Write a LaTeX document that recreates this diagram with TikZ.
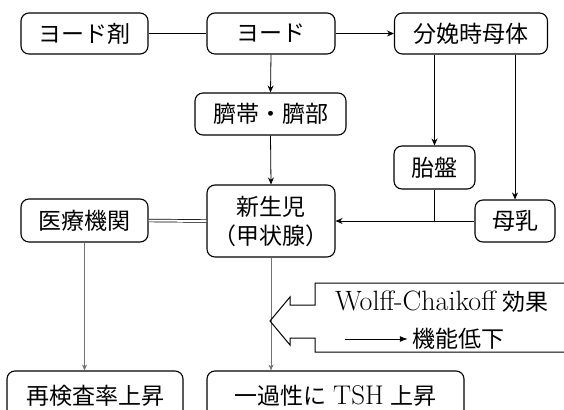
\documentclass[tikz,border=0pt]{standalone}
\usepackage{fontspec}
\newfontfamily\cjk{Noto Sans CJK JP}
\usetikzlibrary{arrows.meta}
\begin{document}
\begin{tikzpicture}[x=1pt,y=-1pt,
  box/.style={draw,rounded corners=8pt,line width=1.1pt,inner sep=0pt,
    font=\cjk\fontsize{23}{29}\selectfont,align=center},
  conn/.style={line width=0.8pt},
  arr/.style={conn,-{Stealth[length=7pt,width=6pt]}},
  faint/.style={line width=0.6pt,black!55,-{Stealth[length=6pt,width=5pt]}},
  lbl/.style={inner sep=0pt,font=\cjk\fontsize{23}{29}\selectfont}]
\useasboundingbox (0,0) rectangle (564,409);
\clip (0,0) rectangle (564,409);

\node[box,minimum width=127pt,minimum height=41pt] (yozai) at (84.5,33.5) {ヨード剤};
\node[box,minimum width=128pt,minimum height=41pt] (yodo) at (271,33.5) {ヨード};
\node[box,minimum width=153pt,minimum height=41pt] (bunben) at (471,33.5) {分娩時母体};
\node[box,minimum width=151pt,minimum height=42pt] (saitai) at (270.5,114) {臍帯・臍部};
\node[box,minimum width=81pt,minimum height=43pt] (taiban) at (434.5,167.5) {胎盤};
\node[box,minimum width=128pt,minimum height=72pt] (shinsei) at (271,221) {新生児\\（甲状腺）};
\node[box,minimum width=127pt,minimum height=43pt] (iryo) at (84.5,220.5) {医療機関};
\node[box,minimum width=80pt,minimum height=42pt] (bonyu) at (515,221) {母乳};
\node[box,minimum width=176pt,minimum height=50pt] (saiken) at (95,396) {再検査率上昇};
\node[box,minimum width=257pt,minimum height=50pt] (ikasei) at (335.5,396)
  {一過性に\hspace{7pt}{\fontsize{27}{29}\selectfont\rmfamily TSH}\hspace{7pt}上昇};

% connectors
\draw[conn] (yozai.east) -- (yodo.west);
\draw[arr] (yodo.east) -- (bunben.west);
\draw[arr] (yodo.south) -- (saitai.north);
\draw[arr] (saitai.south) -- (shinsei.north);
\draw[arr] (bunben.south -| taiban.north) -- (taiban.north);
\draw[arr] (bunben.south -| bonyu.north) -- (bonyu.north);
\draw[arr] (bonyu.west) -- (shinsei.east);
\coordinate (join) at (taiban.south |- bonyu.west);
\draw[conn] (taiban.south) -- (join);
\draw[double,double distance=2pt,line width=0.7pt] (iryo.east) -- (shinsei.west);
\draw[faint] (iryo.south) -- (iryo.south |- saiken.north);
\draw[faint] (shinsei.south) -- (shinsei.south |- ikasei.north);

% Wolff-Chaikoff box with hollow arrow
\draw[line width=1pt,line join=miter]
  (570,283) -- (315,283) -- (315,305) -- (290,305) -- (290,297) -- (270,321)
  -- (290,345) -- (290,338) -- (315,338) -- (315,352) -- (570,352);
\node[inner sep=0pt] (wolff) at (442,302)
  {{\fontsize{28}{30}\selectfont Wolff-Chaikoff}\hspace{7pt}{\cjk\fontsize{23}{29}\selectfont 効果}};
\node[lbl] (kino) at (458,339) {機能低下};
\coordinate (kstart) at (345,339);
\draw[line width=1pt,-{Latex[length=8pt,width=6pt]}] (kstart) -- ([xshift=-4pt]kino.west);
\end{tikzpicture}
\end{document}
